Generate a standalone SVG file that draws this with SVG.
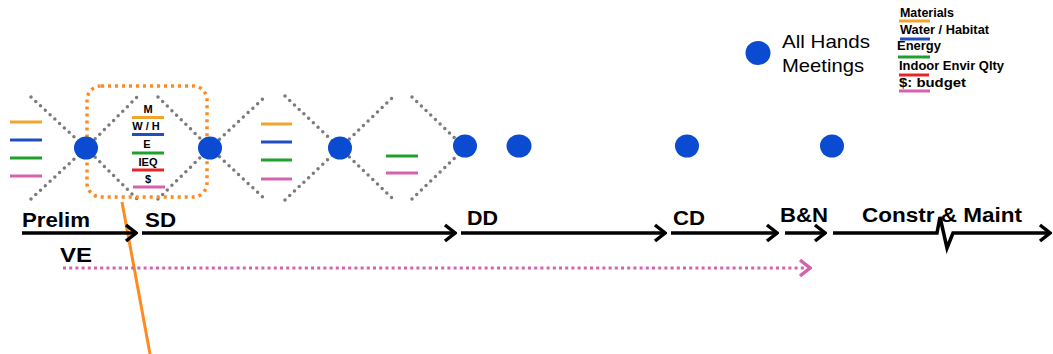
<svg xmlns="http://www.w3.org/2000/svg" width="1053" height="354" viewBox="0 0 1053 354">
<style>
.dia{fill:none;stroke:#7a7a7a;stroke-width:3.5;stroke-linecap:round;stroke-dasharray:0 6.5}
.dot{fill:#0a4bd1}
.lbl{font-family:"Liberation Sans",Arial,sans-serif;font-weight:bold;font-size:20px;fill:#000}
.sm{font-family:"Liberation Sans",Arial,sans-serif;font-weight:bold;font-size:11px;fill:#000}
.lg{font-family:"Liberation Sans",Arial,sans-serif;font-weight:bold;font-size:12px;fill:#000}
.ah{font-family:"Liberation Sans",Arial,sans-serif;font-size:19px;fill:#000}
.bar{stroke-width:3;fill:none}
.o{stroke:#f2a52e}.b{stroke:#1f4fbf}.g{stroke:#1fa02a}.p{stroke:#d462b0}.r{stroke:#e8232a}
.arr{stroke:#000;stroke-width:3.5;fill:none;marker-end:url(#chev)}
</style>
<defs>
<marker id="chev" markerUnits="userSpaceOnUse" viewBox="0 0 14 20" refX="12" refY="10" markerWidth="14" markerHeight="20" orient="auto">
<path d="M2,2 L12,10 L2,18" fill="none" stroke="#000" stroke-width="3.5"/>
</marker>
<marker id="chevp" markerUnits="userSpaceOnUse" viewBox="0 0 14 20" refX="12" refY="10" markerWidth="14" markerHeight="20" orient="auto">
<path d="M2,2 L12,10 L2,18" fill="none" stroke="#d462b0" stroke-width="3.5"/>
</marker>
</defs>
<rect width="1053" height="354" fill="#fff"/>

<g id="diamonds">
<path class="dia" d="M31,97 L86,148 M31,199 L86,148"/>
<path class="dia" d="M86,148 L137,97 M158,97 L210,148 M86,148 L137,199 M158,199 L210,148"/>
<path class="dia" d="M210,148 L266,96 M285,96 L340,148 M210,148 L266,200 M285,200 L340,148"/>
<path class="dia" d="M340,148 L393,97 M412,97 L465,148 M340,148 L393,199 M412,199 L465,148"/>
</g>

<g id="bars-left">
<line class="bar o" x1="10" y1="122" x2="42" y2="122"/>
<line class="bar b" x1="10" y1="140" x2="42" y2="140"/>
<line class="bar g" x1="10" y1="158" x2="42" y2="158"/>
<line class="bar p" x1="10" y1="176" x2="42" y2="176"/>
</g>

<g id="focus-group">
<text class="sm" x="148" y="113" text-anchor="middle">M</text>
<line class="bar o" x1="132" y1="117.5" x2="164" y2="117.5"/>
<text class="sm" x="146" y="130" text-anchor="middle">W / H</text>
<line class="bar b" x1="132" y1="134.5" x2="164" y2="134.5"/>
<text class="sm" x="147" y="148" text-anchor="middle">E</text>
<line class="bar g" x1="132" y1="153" x2="164" y2="153"/>
<text class="sm" x="148" y="166" text-anchor="middle">IEQ</text>
<line class="bar r" x1="132" y1="170" x2="164" y2="170"/>
<text class="sm" x="148" y="183" text-anchor="middle">$</text>
<line class="bar p" x1="133" y1="187" x2="165" y2="187"/>
<rect x="87" y="86" width="120" height="111" rx="14" fill="none" stroke="#ff8a1f" stroke-width="3.5" stroke-dasharray="3 4"/>
</g>

<g id="bars-mid">
<line class="bar o" x1="261" y1="124" x2="292" y2="124"/>
<line class="bar b" x1="261" y1="142" x2="292" y2="142"/>
<line class="bar g" x1="261" y1="160" x2="292" y2="160"/>
<line class="bar p" x1="261" y1="179" x2="292" y2="179"/>
</g>

<g id="bars-right">
<line class="bar g" x1="386" y1="156" x2="418" y2="156"/>
<line class="bar p" x1="386" y1="173" x2="418" y2="173"/>
</g>

<g id="meetings">
<ellipse class="dot" cx="86" cy="148" rx="12" ry="11.5"/>
<ellipse class="dot" cx="210" cy="148" rx="12" ry="11.5"/>
<ellipse class="dot" cx="340" cy="148" rx="12" ry="11.5"/>
<ellipse class="dot" cx="465" cy="146" rx="12" ry="11.5"/>
<ellipse class="dot" cx="519" cy="146" rx="12.5" ry="11.5"/>
<ellipse class="dot" cx="687" cy="146" rx="12" ry="11.5"/>
<ellipse class="dot" cx="832" cy="146" rx="12" ry="11.5"/>
</g>

<g id="legend">
<ellipse class="dot" cx="758" cy="53" rx="12.5" ry="12"/>
<text class="ah" x="782" y="48" textLength="88" lengthAdjust="spacingAndGlyphs">All Hands</text>
<text class="ah" x="782" y="72" textLength="82" lengthAdjust="spacingAndGlyphs">Meetings</text>
<text class="lg" x="900" y="17" textLength="54" lengthAdjust="spacingAndGlyphs">Materials</text>
<line class="bar o" x1="899" y1="21" x2="930" y2="21"/>
<text class="lg" x="900" y="34" textLength="89" lengthAdjust="spacingAndGlyphs">Water / Habitat</text>
<line class="bar b" x1="900" y1="39" x2="930" y2="39"/>
<text class="lg" x="897" y="50" textLength="44" lengthAdjust="spacingAndGlyphs">Energy</text>
<line class="bar g" x1="898" y1="57" x2="930" y2="57"/>
<text class="lg" x="899" y="70" textLength="105" lengthAdjust="spacingAndGlyphs">Indoor Envir Qlty</text>
<line class="bar r" x1="899" y1="75" x2="929" y2="75"/>
<text class="lg" x="899" y="87" textLength="67" lengthAdjust="spacingAndGlyphs">$: budget</text>
<line class="bar p" x1="899" y1="91" x2="930" y2="91"/>
</g>

<g id="connectors">
<line x1="122" y1="202" x2="150" y2="354" stroke="#ff8a1f" stroke-width="3"/>
<line class="arr" x1="22" y1="233" x2="136" y2="233"/>
<line class="arr" x1="142" y1="233" x2="455" y2="233"/>
<line class="arr" x1="461" y1="233" x2="665" y2="233"/>
<line class="arr" x1="671" y1="233" x2="777" y2="233"/>
<line class="arr" x1="785" y1="233" x2="825" y2="233"/>
<path class="arr" d="M833,233 L937,233 L940,217 L947,248 L953,233 L1050,233"/>
<line x1="63" y1="268" x2="810" y2="268" stroke="#d462b0" stroke-width="3" stroke-dasharray="3 3.2" marker-end="url(#chevp)"/>
</g>

<g id="phases">
<text class="lbl" x="22" y="227" textLength="68" lengthAdjust="spacingAndGlyphs">Prelim</text>
<text class="lbl" x="145" y="227" textLength="31" lengthAdjust="spacingAndGlyphs">SD</text>
<text class="lbl" x="467" y="225" textLength="31" lengthAdjust="spacingAndGlyphs">DD</text>
<text class="lbl" x="673" y="225" textLength="32" lengthAdjust="spacingAndGlyphs">CD</text>
<text class="lbl" x="780" y="222" textLength="48" lengthAdjust="spacingAndGlyphs">B&amp;N</text>
<text class="lbl" x="862" y="222" textLength="160" lengthAdjust="spacingAndGlyphs">Constr &amp; Maint</text>
<text class="lbl" x="60" y="262" textLength="32" lengthAdjust="spacingAndGlyphs">VE</text>
</g>
</svg>
